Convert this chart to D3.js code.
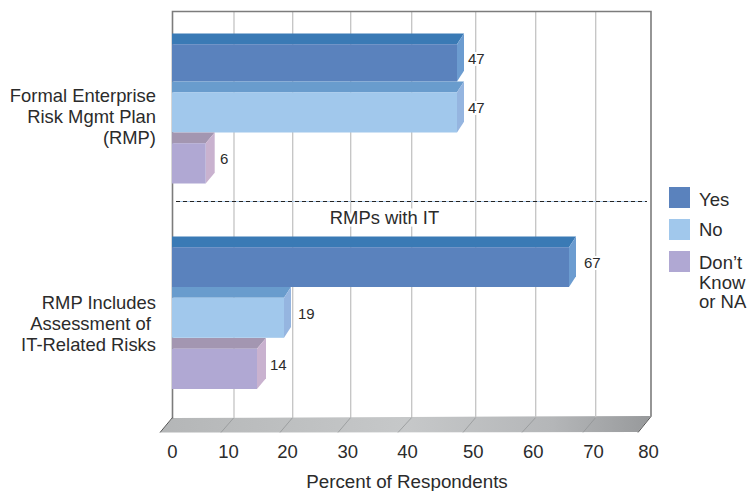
<!DOCTYPE html>
<html><head><meta charset="utf-8">
<script src="https://cdn.jsdelivr.net/npm/d3@7/dist/d3.min.js"></script>
<style>html,body{margin:0;padding:0;background:#fff}svg{display:block}text{font-family:"Liberation Sans",Arial,sans-serif;fill:#2b2b2b}</style>
</head><body><svg id="c" width="747" height="491"></svg>
<script>
const groups = ["Formal Enterprise Risk Mgmt Plan (RMP)", "RMP Includes Assessment of IT-Related Risks"];
const groupLines = [["Formal Enterprise","Risk Mgmt Plan","(RMP)"],["RMP Includes","Assessment of\u00a0","IT-Related Risks"]];
const seriesNames = ["Yes","No","Don't Know or NA"];
const yesValues = [47,67];
const noValues = [47,19];
const dkValues = [6,14];
const ticks = [0,10,20,30,40,50,60,70,80];
const legendLines = [["Yes"],["No"],["Don\u2019t","Know","or NA"]];
const frontColors = ["#5a82bd","#a1c8ec","#b0a8d3"];
const topColors = ["#3a7ab5","#699ccd","#a396b1"];
const sideColors = ["#6c9cd0","#95b5e0","#c9b2cf"];

// calibrated scales: the source artwork's axis is hand-spaced, so these are piecewise linear
const xBack = d3.scaleLinear().domain(ticks).range([172.5,234,292.7,350.7,411.7,475.7,535.7,595.7,651]);
const xFront = d3.scaleLinear().domain(ticks).range([160,221,280,338,398,463,522,583,638]);
const xLabel = d3.scaleLinear().domain(ticks).range([172,228,287,347.3,407,472.7,532.7,593,648]);
const xBar = d3.scaleLinear().domain([0,6,14,19,47,67,80]).range([172,205.7,257,284,457,569,650]);
const xValue = d3.scaleLinear().domain([6,14,19,47,67]).range([220,270,298,468,584]);
const yBands = [d3.scaleOrdinal().domain(seriesNames).range([33.5,81.5,132.5]), d3.scaleOrdinal().domain(seriesNames).range([236.5,287,338])];
const yEnds = [d3.scaleOrdinal().domain(seriesNames).range([81.5,132.5,183.5]), d3.scaleOrdinal().domain(seriesNames).range([287,337.8,389])];

const svg = d3.select("#c");
const defs = svg.append("defs");
const g = defs.append("linearGradient").attr("id","floor");
[[0,"#b4b6b7"],[.5,"#c6c8c9"],[.8,"#b4b6b8"],[1,"#97999b"]].forEach(s=>g.append("stop").attr("offset",s[0]).attr("stop-color",s[1]));

const wallTop = 11.5, wallBot = 417.5, floorFront = 432.5;
// floor
svg.append("path").attr("d",`M${xBack(0)},${wallBot+.5}L${xBack(80)},${wallBot-1.5}L${xFront(80)},${floorFront-.5}L${xFront(0)},${floorFront}Z`).attr("fill","url(#floor)");
// grid
svg.selectAll(".grid").data(ticks.slice(1,-1)).join("line").attr("x1",d=>xBack(d)).attr("x2",d=>xBack(d))
  .attr("y1",wallTop).attr("y2",wallBot).attr("stroke","#c4c4c4").attr("stroke-width",1.3);
svg.selectAll(".fl").data(ticks.slice(1,-1)).join("line").attr("x1",d=>xBack(d)).attr("x2",d=>xFront(d))
  .attr("y1",wallBot).attr("y2",floorFront).attr("stroke","#8e9092").attr("stroke-width",.7);
// frame
svg.append("path").attr("d",`M${xBack(0)},${wallBot+1}V${wallTop}H${xBack(80)}V${wallBot-1}`).attr("fill","none").attr("stroke","#7c7c7c").attr("stroke-width",1.6);
svg.append("path").attr("d",`M${xBack(0)},${wallBot}L${xFront(0)},${floorFront}`).attr("stroke","#555").attr("stroke-width",1);
svg.append("path").attr("d",`M${xBack(80)},${wallBot-1}L${xFront(80)},${floorFront}`).attr("stroke","#555").attr("stroke-width",1);

// bars
const rows = [];
groups.forEach((gr,i)=>{[yesValues,noValues,dkValues].forEach((arr,s)=>rows.push({i,s,name:seriesNames[s],v:arr[i]}));});
const depthX = 7, depthY = 10.7;
rows.forEach(r=>{
  const y0 = yBands[r.i](r.name), y1 = yEnds[r.i](r.name);
  const xe = xBar(r.v), x0 = xBar(0), dx = r.v<15 ? 9 : depthX;
  const e = svg.append("g");
  e.append("path").attr("d",`M${x0},${y0}H${xe+dx}L${xe},${y0+depthY}H${x0}Z`).attr("fill",topColors[r.s]);
  e.append("path").attr("d",`M${xe+dx},${y0}V${y1-depthY}L${xe},${y1}V${y0+depthY}Z`).attr("fill",sideColors[r.s]);
  e.append("rect").attr("x",x0).attr("y",y0+depthY).attr("width",xe-x0).attr("height",y1-y0-depthY).attr("fill",frontColors[r.s]);
  svg.append("text").attr("x",xValue(r.v)).attr("y",(y0+depthY+y1)/2+.8).attr("font-size",15)
    .attr("stroke","#fff").attr("stroke-width",4).attr("paint-order","stroke").text(r.v);
});
// divider
svg.append("line").attr("x1",176).attr("x2",647).attr("y1",201.5).attr("y2",201.5).attr("stroke","#a9c8e8").attr("stroke-width",1);
svg.append("line").attr("x1",176).attr("x2",647).attr("y1",201.5).attr("y2",201.5).attr("stroke","#222").attr("stroke-width",1).attr("stroke-dasharray","4 3");
svg.append("text").attr("x",384.5).attr("y",224).attr("text-anchor","middle").attr("font-size",18.4)
  .attr("stroke","#fff").attr("stroke-width",5).attr("paint-order","stroke").text("RMPs with IT");

// category labels
[102,309].forEach((y,i)=>groupLines[i].forEach((t,j)=>svg.append("text").attr("x",156).attr("y",y+j*20.8).attr("text-anchor","end").attr("font-size",18.4).text(t)));

// x axis
const ax = svg.append("g").attr("transform","translate(0,445)").call(d3.axisBottom(xLabel).tickValues(ticks).tickSize(0).tickPadding(0).tickFormat(d3.format("d")));
ax.select(".domain").remove();
ax.selectAll("text").attr("font-size",18.5).attr("font-family",'"Liberation Sans",Arial,sans-serif').attr("fill","#2b2b2b");
svg.append("text").attr("x",407).attr("y",487.5).attr("text-anchor","middle").attr("font-size",18.8).text("Percent of Respondents");

// legend
const legY = d3.scalePoint().domain(seriesNames).range([187,251]);
const legText = d3.scaleOrdinal().domain(seriesNames).range([205.7,235.7,269]);
seriesNames.forEach((n,i)=>{
  svg.append("rect").attr("x",669).attr("y",legY(n)).attr("width",21).attr("height",21).attr("fill",frontColors[i]);
  legendLines[i].forEach((t,j)=>svg.append("text").attr("x",699).attr("y",legText(n)+j*19.7).attr("font-size",18.5).text(t));
});
</script></body></html>
